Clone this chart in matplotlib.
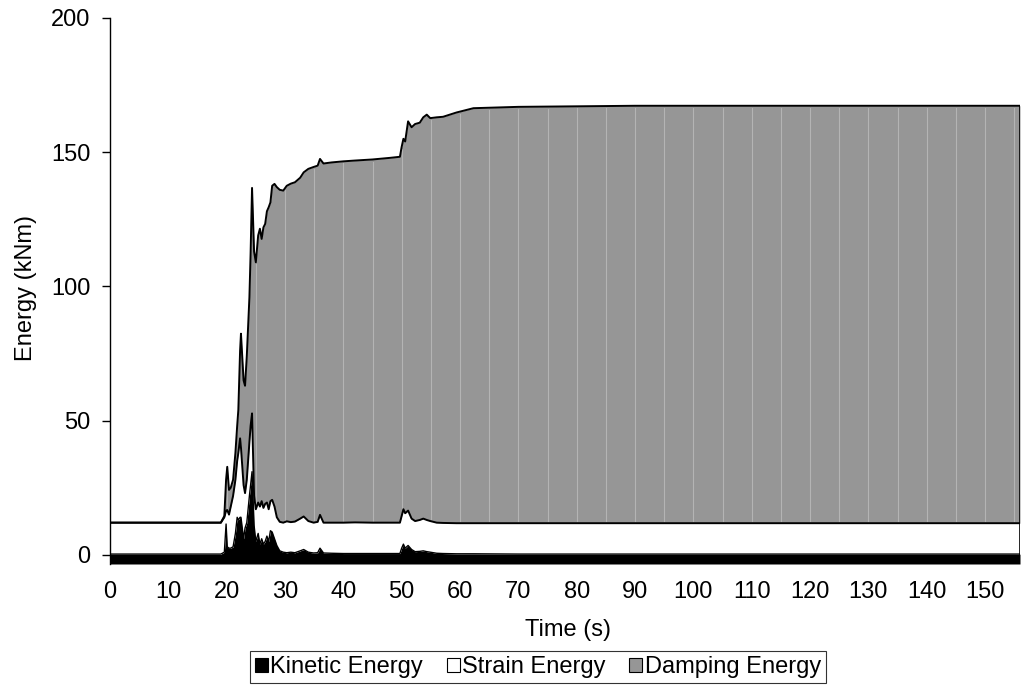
import numpy as np
import matplotlib
matplotlib.use("Agg")
import matplotlib.pyplot as plt
from matplotlib.patches import Patch

plt.rcParams['font.family'] = ['Liberation Sans', 'DejaVu Sans']

time_s = [0, 19.0, 19.6, 19.9, 20.1, 20.4, 20.7, 21.1, 21.5, 21.8, 22.0, 22.3, 22.45,
          22.9, 23.15, 23.45, 23.9, 24.1, 24.35, 24.7, 25.0, 25.4, 25.7, 26.0, 26.3,
          26.6, 26.9, 27.2, 27.5, 27.8, 28.2, 28.6, 29.1, 29.7, 30.3, 31.0, 31.7, 32.6,
          33.2, 34.0, 34.9, 35.6, 36.0, 36.6, 38.0, 40.0, 42.0, 45.0, 48.0, 49.7, 50.0,
          50.3, 50.6, 51.1, 51.7, 52.3, 53.1, 53.7, 54.3, 54.9, 56.0, 57.1, 59.4, 62.3,
          70.0, 90.0, 156.0]

kinetic = [0.3, 0.3, 1.0, 11.5, 3.0, 2.5, 2.5, 3.0, 8.0, 14.0, 13.0, 14.0, 14.0,
           6.0, 10.0, 12.0, 22.0, 26.0, 31.0, 11.0, 5.0, 8.0, 4.0, 6.0, 4.0,
           5.0, 7.0, 5.0, 9.0, 8.5, 6.0, 3.5, 1.5, 1.0, 0.8, 1.0, 0.8, 1.5,
           2.0, 1.0, 0.7, 0.8, 2.5, 0.7, 0.6, 0.5, 0.5, 0.5, 0.5, 0.5, 2.5,
           4.0, 2.5, 3.5, 2.0, 1.2, 1.3, 1.5, 1.2, 1.0, 0.6, 0.5, 0.4, 0.4,
           0.3, 0.3, 0.3]

strain = [11.7, 11.7, 13.0, 5.0, 13.7, 12.5, 15.5, 19.0, 20.0, 21.0, 25.0, 29.4, 26.0,
          20.0, 13.0, 16.0, 20.0, 22.0, 21.7, 11.0, 12.0, 11.5, 14.0, 14.0, 13.5,
          14.0, 12.5, 12.0, 11.0, 12.0, 12.0, 10.5, 10.8, 11.0, 11.7, 11.2, 11.6, 12.0,
          12.3, 11.6, 11.3, 11.5, 12.4, 11.3, 11.4, 11.5, 11.6, 11.5, 11.5, 11.5, 12.0,
          13.0, 13.0, 13.0, 11.5, 11.4, 11.7, 12.0, 11.8, 11.6, 11.4, 11.4, 11.4, 11.4,
          11.5, 11.5, 11.5]

damping = [0.0, 0.0, 0.5, 11.5, 16.1, 9.2, 7.0, 6.0, 10.0, 13.0, 16.0, 32.6, 42.4,
           39.0, 40.0, 46.0, 54.0, 64.0, 84.0, 91.0, 92.0, 99.5, 103.5, 97.7, 104.5,
           104.3, 108.5, 112.5, 111.3, 117.0, 120.2, 123.0, 123.7, 123.7, 125.0, 126.1, 126.4, 127.0,
           128.2, 131.2, 132.5, 132.7, 132.6, 133.8, 134.2, 134.6, 134.8, 135.3, 135.9, 136.3, 137.5,
           138.0, 138.5, 145.0, 145.8, 147.9, 148.0, 149.5, 151.0, 150.1, 151.0, 151.3, 153.0, 154.6,
           155.1, 155.5, 155.5]

x_ticks = list(range(0, 151, 10))
y_ticks = [0, 50, 100, 150, 200]
series_names = ['Kinetic Energy', 'Strain Energy', 'Damping Energy']

t = np.array(time_s)
k = np.array(kinetic)
mid = k + np.array(strain)
top = mid + np.array(damping)

FS = 17
fig = plt.figure(figsize=(10.22, 6.89), dpi=100)
ax = fig.add_axes([110/1022, 1 - 564/689, 910/1022, 546/689])
ybot = -3.4
ax.set_xlim(0, 156)
ax.set_ylim(ybot, 200)

gray = '#969696'
ax.fill_between(t, ybot, k, color='black', lw=0)
ax.fill_between(t, k, mid, color='white', lw=0)
ax.fill_between(t, mid, top, color=gray, lw=0)
# faint seams of the area rendering
for s in range(5, 157, 5):
    lo = np.interp(s, t, mid)
    hi = np.interp(s, t, top)
    if hi - lo > 0.5:
        ax.plot([s, s], [lo + 0.8, hi - 0.8], color='#b4b4b4', lw=0.8)
ax.plot(t, k, color='black', lw=1.0)
ax.plot(t, mid, color='black', lw=1.4)
ax.plot(t, top, color='black', lw=1.4)
# closing edge of the areas at the right end
ax.plot([t[-1], t[-1]], [ybot, top[-1]], color='black', lw=1.2)

for sp in ['top', 'right', 'bottom']:
    ax.spines[sp].set_visible(False)
ax.spines['left'].set_color('black')
ax.spines['left'].set_linewidth(1.0)

ax.set_yticks(y_ticks)
ax.set_xticks(x_ticks)
ax.tick_params(axis='y', direction='out', length=6, width=1.0, pad=8, labelsize=FS)
ax.tick_params(axis='x', length=0, pad=12, labelsize=FS)

ax.set_xlabel('Time (s)', fontsize=FS)
ax.xaxis.set_label_coords((568 - 110) / 910, (564 - 619) / 546)
ax.set_ylabel('Energy (kNm)', fontsize=FS)
ax.yaxis.set_label_coords((37 - 110) / 910, (564 - 288) / 546)

handles = [Patch(facecolor='black', edgecolor='black', lw=0.8),
           Patch(facecolor='white', edgecolor='black', lw=0.8),
           Patch(facecolor=gray, edgecolor='black', lw=0.8)]
leg = fig.legend(handles, series_names, loc='center', bbox_to_anchor=(538/1022, 1 - 667/689),
                 ncol=3, fontsize=FS, frameon=True, fancybox=False, handlelength=0.55,
                 handleheight=0.55, handletextpad=0.1, columnspacing=1.0, borderpad=0.2,
                 borderaxespad=0)
leg.get_frame().set_edgecolor('black')
leg.get_frame().set_linewidth(0.8)

fig.savefig('out.png', dpi=100)
